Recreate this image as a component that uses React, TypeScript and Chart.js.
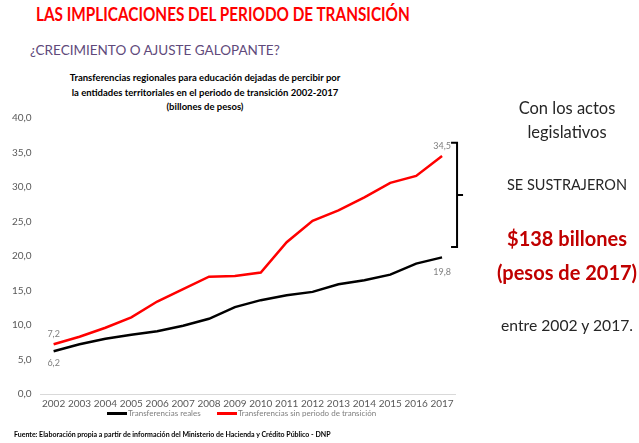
import React, { useEffect, useRef } from "react";
import { Chart, registerables } from "chart.js";

Chart.register(...registerables);

const years = ["2002", "2003", "2004", "2005", "2006", "2007", "2008", "2009", "2010", "2011", "2012", "2013", "2014", "2015", "2016", "2017"];
const realTransfers = [6.2, 7.2, 8.0, 8.6, 9.1, 9.9, 10.9, 12.6, 13.6, 14.3, 14.8, 15.9, 16.5, 17.3, 18.9, 19.8];
const noTransitionTransfers = [7.2, 8.3, 9.6, 11.1, 13.4, 15.2, 17.0, 17.1, 17.6, 22.0, 25.1, 26.6, 28.5, 30.6, 31.6, 34.5];
const seriesNames = ["Transferencias reales", "Transferencias sin periodo de transición"];
const seriesColors = ["#000000", "#ff0000"];
const yMin = 0;
const yMax = 40;
const yStep = 5;
const bracketRange = [21.3, 36.4];

const FONT = "Lato, 'Open Sans', sans-serif";
const fmt = (v: number) => v.toFixed(1).replace(".", ",");

const endLabels = {
  id: "endLabels",
  afterDatasetsDraw(chart: any) {
    const ctx = chart.ctx;
    ctx.save();
    ctx.font = `9px ${FONT}`;
    ctx.fillStyle = "#7f7f7f";
    ctx.textAlign = "center";
    ctx.textBaseline = "middle";
    chart.data.datasets.forEach((ds: any, i: number) => {
      const meta = chart.getDatasetMeta(i);
      const above = i === 1;
      [0, meta.data.length - 1].forEach((idx) => {
        const pt = meta.data[idx];
        const v = ds.data[idx];
        const dy = above ? -10 : idx === 0 ? 12 : 15;
        ctx.fillText(fmt(v), pt.x, pt.y + dy);
      });
    });
    ctx.restore();
  },
};

const bracket = {
  id: "bracket",
  afterDraw(chart: any) {
    const { ctx, scales } = chart;
    const xs = scales.x;
    const ys = scales.y;
    const bx = xs.getPixelForValue(years.length - 1) + 15;
    const top = ys.getPixelForValue(bracketRange[1]);
    const bottom = ys.getPixelForValue(bracketRange[0]);
    const mid = (top + bottom) / 2;
    ctx.save();
    ctx.strokeStyle = "#000";
    ctx.lineWidth = 2;
    ctx.beginPath();
    ctx.moveTo(bx - 6, top);
    ctx.lineTo(bx, top);
    ctx.lineTo(bx, bottom);
    ctx.lineTo(bx - 6, bottom);
    ctx.moveTo(bx, mid);
    ctx.lineTo(bx + 6, mid);
    ctx.stroke();
    ctx.restore();
  },
};

const CANVAS_TOP = 103;
const CANVAS_W = 470;
const CANVAS_H = 311;

function LineChart() {
  const ref = useRef<HTMLCanvasElement | null>(null);
  useEffect(() => {
    if (!ref.current) return;
    const chart = new Chart(ref.current, {
      type: "line",
      data: {
        labels: years,
        datasets: [
          { label: seriesNames[0], data: realTransfers, borderColor: seriesColors[0], backgroundColor: seriesColors[0], borderWidth: 2.5, pointRadius: 0, tension: 0 },
          { label: seriesNames[1], data: noTransitionTransfers, borderColor: seriesColors[1], backgroundColor: seriesColors[1], borderWidth: 2.5, pointRadius: 0, tension: 0 },
        ],
      },
      options: {
        responsive: false,
        animation: false,
        layout: { padding: { left: 3, right: 15, top: 2, bottom: 0 } },
        plugins: { legend: { display: false }, tooltip: { enabled: false }, title: { display: false } },
        scales: {
          x: {
            offset: true,
            grid: { display: false, drawTicks: false },
            border: { display: true, color: "#d9d9d9", width: 1 },
            ticks: { color: "#595959", font: { family: FONT, size: 10 }, padding: 4, maxRotation: 0, autoSkip: false },
          },
          y: {
            min: yMin,
            max: yMax,
            grid: { display: false, drawTicks: false },
            border: { display: false },
            ticks: { stepSize: yStep, color: "#595959", font: { family: FONT, size: 10 }, padding: 9, callback: (v: any) => fmt(Number(v)) },
          },
        },
      },
      plugins: [endLabels, bracket],
    });
    return () => chart.destroy();
  }, []);
  return <canvas ref={ref} width={CANVAS_W} height={CANVAS_H} style={{ position: "absolute", left: 0, top: CANVAS_TOP, width: CANVAS_W, height: CANVAS_H }} />;
}

const abs = (left: number, top: number, extra: React.CSSProperties = {}): React.CSSProperties => ({
  position: "absolute",
  left,
  top,
  whiteSpace: "nowrap",
  fontFamily: FONT,
  ...extra,
});

const rightCenter = 567;
const rightLines: { text: string; y: number; size: number; bold?: boolean; color: string }[] = [
  { text: "Con los actos", y: 109, size: 16.5, color: "#262626" },
  { text: "legislativos", y: 133, size: 16.5, color: "#262626" },
  { text: "SE SUSTRAJERON", y: 185, size: 14.5, color: "#262626" },
  { text: "$138 billones", y: 238, size: 20, bold: true, color: "#c00000" },
  { text: "(pesos de 2017)", y: 272, size: 20, bold: true, color: "#c00000" },
  { text: "entre 2002 y 2017.", y: 325, size: 15.7, color: "#262626" },
];

export default function App() {
  return (
    <div style={{ position: "fixed", left: 0, top: 0, width: 639, height: 443, background: "#fff", overflow: "hidden" }}>
      <div style={abs(36, 3, { fontSize: 19, fontWeight: 700, color: "#ff0000", lineHeight: "22px", transform: "scaleX(0.807)", transformOrigin: "left center" })}>
        LAS IMPLICACIONES DEL PERIODO DE TRANSICIÓN
      </div>
      <div style={abs(30, 40, { fontSize: 13.5, color: "#604a7b", lineHeight: "20px" })}>¿CRECIMIENTO O AJUSTE GALOPANTE?</div>
      <div style={{ position: "absolute", left: 55, top: 71, width: 300, textAlign: "center", fontFamily: FONT, fontWeight: 700, fontSize: 9.5, lineHeight: "14.5px", color: "#000" }}>
        Transferencias regionales para educación dejadas de percibir por
        <br />
        la entidades territoriales en el periodo de transición 2002-2017
        <br />
        (billones de pesos)
      </div>
      <LineChart />
      <div style={{ position: "absolute", left: 107, top: 412, width: 20, height: 3, background: seriesColors[0] }} />
      <div style={abs(128, 408, { fontSize: 8, color: "#7f7f7f", lineHeight: "10px" })}>{seriesNames[0]}</div>
      <div style={{ position: "absolute", left: 217, top: 412, width: 20, height: 3, background: seriesColors[1] }} />
      <div style={abs(238, 408, { fontSize: 8, color: "#7f7f7f", lineHeight: "10px" })}>{seriesNames[1]}</div>
      <div style={abs(14, 429, { fontSize: 7, fontWeight: 700, color: "#000", lineHeight: "10px" })}>
        Fuente: Elaboración propia a partir de información del Ministerio de Hacienda y Crédito Público - DNP
      </div>
      {rightLines.map((l, i) => (
        <div
          key={i}
          style={{
            position: "absolute",
            left: rightCenter - 100,
            width: 200,
            top: l.y - l.size * 0.65,
            textAlign: "center",
            fontFamily: FONT,
            fontSize: l.size,
            fontWeight: l.bold ? 700 : 400,
            color: l.color,
            lineHeight: `${l.size * 1.3}px`,
            whiteSpace: "nowrap",
          }}
        >
          {l.text}
        </div>
      ))}
    </div>
  );
}
